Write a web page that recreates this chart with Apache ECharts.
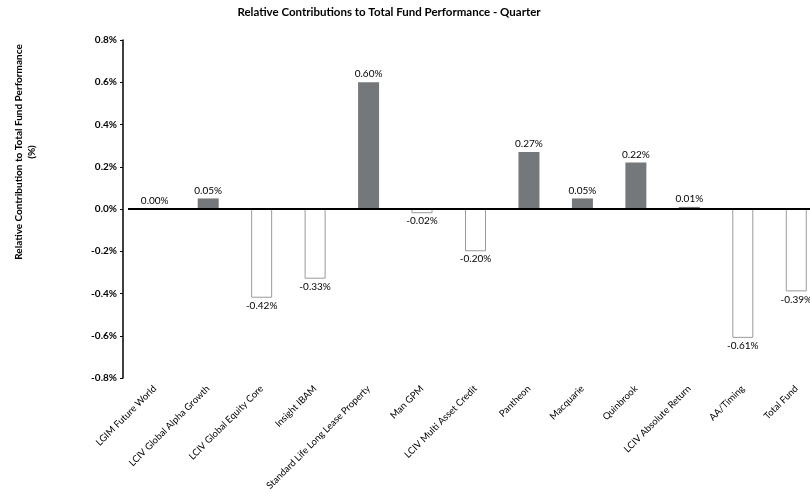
<!DOCTYPE html>
<html>
<head>
<meta charset="utf-8">
<script src="https://cdn.jsdelivr.net/npm/echarts@6/dist/echarts.min.js"></script>
<style>
html, body { margin: 0; padding: 0; background: #fff; }
#main { width: 810px; height: 504px; }
</style>
</head>
<body>
<div id="main"></div>
<script>
// categories and relative contributions (%)
var categories = ['LGIM Future World', 'LCIV Global Alpha Growth', 'LCIV Global Equity Core', 'Insight IBAM',
	'Standard Life Long Lease Property', 'Man GPM', 'LCIV Multi Asset Credit', 'Pantheon', 'Macquarie',
	'Quinbrook', 'LCIV Absolute Return', 'AA/Timing', 'Total Fund'];
var contributions = [0.00, 0.05, -0.42, -0.33, 0.60, -0.02, -0.20, 0.27, 0.05, 0.22, 0.01, -0.61, -0.39];

var fontName = 'Lato';
var chart = echarts.init(document.getElementById('main'));

var barData = contributions.map(function(v) {
	var neg = v < 0;
	return {
		value: v,
		itemStyle: neg ? {
			color: '#ffffff',
			borderColor: '#9a9a9a',
			borderWidth: 1
		} : {
			color: '#75787b'
		},
		label: {
			position: neg ? 'bottom' : 'top'
		}
	};
});

chart.setOption({
	animation: false,
	title: {
		text: 'Relative Contributions to Total Fund Performance - Quarter',
		left: 384,
		top: 1,
		textAlign: 'center',
		textStyle: {
			fontFamily: fontName,
			fontSize: 11.5,
			fontWeight: 'bold',
			color: '#000'
		}
	},
	// y axis title sits above the axis middle in the reference
	graphic: [{
		type: 'text',
		x: 25,
		y: 152,
		rotation: Math.PI / 2,
		style: {
			text: 'Relative Contribution to Total Fund Performance\n(%)',
			font: 'bold 10px Lato',
			fill: '#000',
			align: 'center',
			verticalAlign: 'middle',
			lineHeight: 13
		}
	}],
	grid: {
		left: 128,
		top: 40,
		width: 695,
		height: 338,
		outerBoundsMode: 'none'
	},
	xAxis: {
		type: 'category',
		data: categories,
		axisLine: { show: false },
		axisTick: { show: false },
		axisLabel: {
			rotate: 45,
			interval: 0,
			margin: 9,
			fontFamily: fontName,
			fontSize: 9.5,
			color: '#000'
		}
	},
	yAxis: {
		type: 'value',
		min: -0.8,
		max: 0.8,
		interval: 0.2,
		offset: 5,
		splitLine: { show: false },
		axisLine: {
			show: true,
			lineStyle: { color: '#000', width: 1.5 }
		},
		axisTick: {
			show: true,
			length: 3,
			lineStyle: { color: '#000' }
		},
		axisLabel: {
			margin: 6,
			fontFamily: fontName,
			fontSize: 10,
			fontWeight: 'bold',
			color: '#000',
			formatter: function(v) {
				return v.toFixed(1) + '%';
			}
		}
	},
	series: [{
		type: 'bar',
		data: barData,
		barWidth: 21,
		label: {
			show: true,
			distance: 3,
			fontFamily: fontName,
			fontSize: 10,
			color: '#000',
			formatter: function(p) {
				return p.value.toFixed(2) + '%';
			}
		},
		markLine: {
			silent: true,
			symbol: 'none',
			label: { show: false },
			lineStyle: { color: '#000', width: 2, type: 'solid' },
			data: [{ yAxis: 0 }]
		}
	}]
});
</script>
</body>
</html>
